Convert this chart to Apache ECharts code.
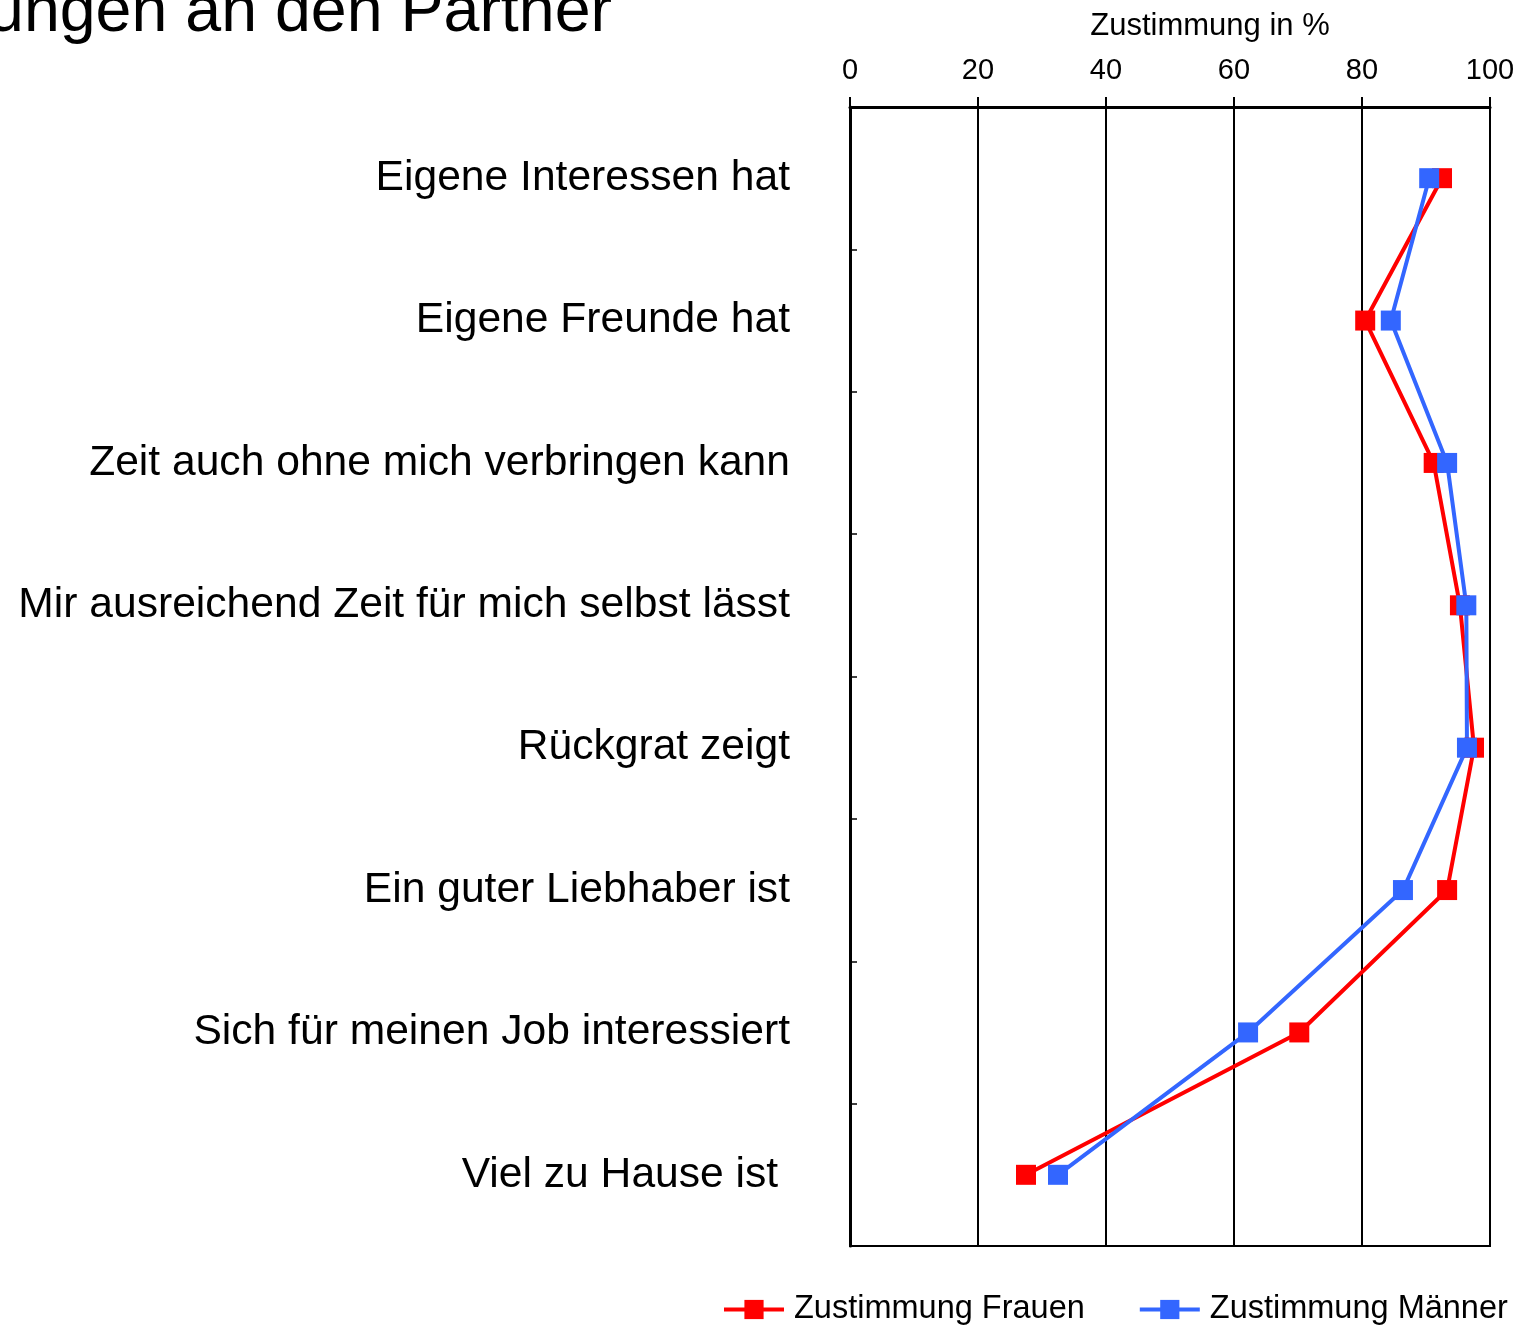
<!DOCTYPE html>
<html>
<head>
<meta charset="utf-8">
<script src="https://cdn.jsdelivr.net/npm/echarts@6/dist/echarts.min.js"></script>
<style>
  html, body { margin: 0; padding: 0; background: #fff; }
  #chart { width: 1517px; height: 1326px; }
</style>
</head>
<body>
<div id="chart"></div>
<script>
// Kategorien (von oben nach unten)
const categories = [
  'Eigene Interessen hat',
  'Eigene Freunde hat',
  'Zeit auch ohne mich verbringen kann',
  'Mir ausreichend Zeit für mich selbst lässt',
  'Rückgrat zeigt',
  'Ein guter Liebhaber ist',
  'Sich für meinen Job interessiert',
  'Viel zu Hause ist '
]

// Zustimmung in %
const frauen = [92.5, 80.5, 91.2, 95.3, 97.5, 93.3, 70.2, 27.5]
const maenner = [90.5, 84.5, 93.3, 96.3, 96.4, 86.4, 62.2, 32.5]

const xTicks = [0, 20, 40, 60, 80, 100]

const font = 'Liberation Sans, Arial, sans-serif'

const chart = echarts.init(document.getElementById('chart'))

chart.setOption({
  animation: false,
  textStyle: { fontFamily: font, color: '#000' },
  graphic: [
    {
      type: 'text',
      style: {
        text: 'Erwartungen an den Partner',
        x: 612,
        y: 46,
        align: 'right',
        verticalAlign: 'bottom',
        font: '64.5px Liberation Sans, Arial, sans-serif',
        fill: '#000'
      }
    }
  ],
  grid: {
    left: 850,
    right: 27,
    top: 107,
    bottom: 80,
    show: true,
    borderColor: '#000',
    borderWidth: 2,
    containLabel: false,
    outerBoundsMode: 'none'
  },
  legend: {
    left: 722,
    top: 1293,
    width: 900,
    padding: 0,
    itemWidth: 60,
    itemHeight: 24,
    itemGap: 53,
    lineStyle: { width: 4 },
    textStyle: { fontSize: 32.5, color: '#000', fontFamily: font, padding: [0, 0, 0, 5] },
    data: ['Zustimmung Frauen', 'Zustimmung Männer']
  },
  xAxis: {
    type: 'value',
    position: 'top',
    min: xTicks[0],
    max: xTicks[xTicks.length - 1],
    interval: 20,
    name: 'Zustimmung in %',
    nameLocation: 'middle',
    nameGap: 65,
    nameTextStyle: { fontSize: 31, color: '#000', padding: [0, 0, 0, 80] },
    axisLine: { show: true, lineStyle: { color: '#000', width: 3 } },
    axisTick: { show: true, length: 10, lineStyle: { color: '#000', width: 2 } },
    axisLabel: { fontSize: 29, color: '#000', margin: 22 },
    splitLine: { show: true, lineStyle: { color: '#000', width: 2 } }
  },
  yAxis: {
    type: 'category',
    inverse: true,
    data: categories,
    axisLine: { show: true, lineStyle: { color: '#000', width: 3 } },
    axisTick: { show: true, inside: true, length: 7, lineStyle: { color: '#000', width: 1.5 } },
    axisLabel: { fontSize: 42.6, color: '#000', margin: 60 },
    splitLine: { show: false }
  },
  series: [
    {
      name: 'Zustimmung Frauen',
      type: 'line',
      data: frauen,
      symbol: 'rect',
      symbolSize: 20,
      color: '#ff0000',
      lineStyle: { width: 4, color: '#ff0000' },
      itemStyle: { color: '#ff0000' }
    },
    {
      name: 'Zustimmung Männer',
      type: 'line',
      data: maenner,
      symbol: 'rect',
      symbolSize: 20,
      color: '#3366ff',
      lineStyle: { width: 4, color: '#3366ff' },
      itemStyle: { color: '#3366ff' }
    }
  ]
})
</script>
</body>
</html>
